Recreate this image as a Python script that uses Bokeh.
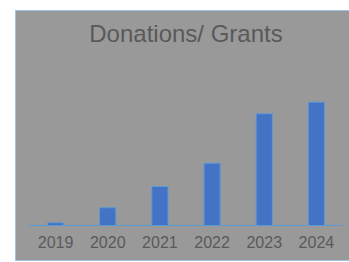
from bokeh.plotting import figure
from bokeh.models import Range1d, FactorRange, Spacer
from bokeh.layouts import row, column
from bokeh.embed import file_html
from bokeh.resources import INLINE

years = ["2019", "2020", "2021", "2022", "2023", "2024"]
amounts = [2.2, 14.4, 31.6, 50.5, 90.6, 100.0]

GRAY = "#999999"
TEXT = "#595959"
EDGE = "#9DC3E6"

p = figure(x_range=FactorRange(*years, range_padding=0), y_range=Range1d(0, 141.1),
           width=333, height=249, output_backend="svg", toolbar_location=None,
           title="Donations/ Grants", min_border_left=13, min_border_right=7,
           min_border_top=40, min_border_bottom=35)
p.styles = {"background-color": GRAY}
p.background_fill_color = GRAY
p.border_fill_color = GRAY
p.outline_line_color = None

p.title.align = "center"
p.title.text_font = "Liberation Sans"
p.title.text_font_size = "24px"
p.title.text_font_style = "normal"
p.title.text_color = TEXT

p.vbar(x=years, top=amounts, width=0.31, fill_color="#4472C4", line_color="#5B9BD5", line_width=1)

p.yaxis.visible = False
p.xgrid.grid_line_color = None
p.ygrid.grid_line_color = None
p.xaxis.axis_line_color = "#5B9BD5"
p.xaxis.major_tick_line_color = None
p.xaxis.minor_tick_line_color = None
p.xaxis.major_tick_out = 0
p.xaxis.major_label_standoff = 10
p.xaxis.major_label_text_font = "Liberation Sans"
p.xaxis.major_label_text_font_size = "16px"
p.xaxis.major_label_text_color = TEXT

left_edge = Spacer(width=1, height=251, styles={"background-color": EDGE})
top_edge = Spacer(width=333, height=1, styles={"background-color": EDGE})
bottom_edge = Spacer(width=333, height=1, styles={"background-color": EDGE})
layout = row(Spacer(width=15, height=10),
             column(Spacer(width=1, height=10), left_edge),
             column(Spacer(width=333, height=10), top_edge, p, bottom_edge))

open("out.html", "w").write(file_html(layout, INLINE))
